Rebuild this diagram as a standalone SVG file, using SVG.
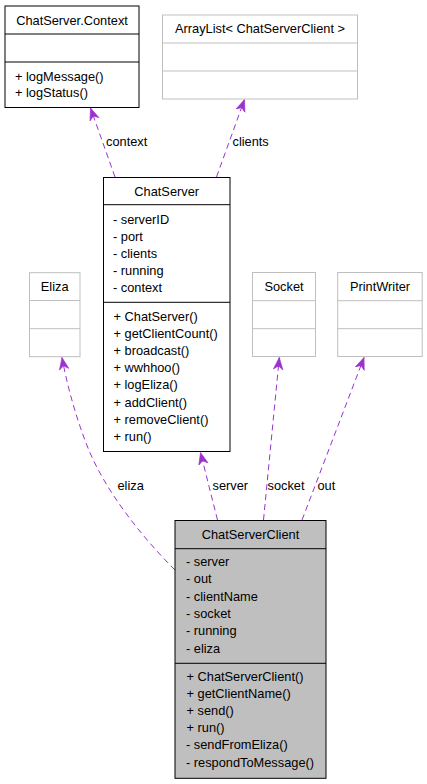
<svg xmlns="http://www.w3.org/2000/svg" width="427" height="784" viewBox="0 0 427 784">
<style>
text{font-family:"Liberation Sans",Arial,sans-serif;font-size:12.8px;fill:#000}
.t{text-anchor:middle}
.bk{fill:#fff;stroke:#000;stroke-width:1}
.gr{fill:#fff;stroke:#bfbfbf;stroke-width:1}
.cur{fill:#bfbfbf;stroke:#000;stroke-width:1}
.dk{stroke:#000;stroke-width:1}
.lg{stroke:#bfbfbf;stroke-width:1}
.e{fill:none;stroke:#9a32cd;stroke-width:1;stroke-dasharray:6,4;marker-end:url(#ah)}
</style>
<defs>
<marker id="ah" viewBox="0 -6 13 12" refX="12" refY="0" markerWidth="13" markerHeight="12" markerUnits="userSpaceOnUse" orient="auto">
<path d="M12,0 L0,-4.8 L3.5,0 L0,4.8 Z" fill="#9a32cd" stroke="#9a32cd" stroke-width="0.6"/>
</marker>
</defs>
<rect width="427" height="784" fill="#fff"/>

<g id="edges">
<path class="e" d="M115,177 L90.5,108"/>
<path class="e" d="M216.5,177 L244.5,99.5"/>
<path class="e" d="M175,570 C140,535 105,490 88,448 C76,418 67,385 62,357.5"/>
<path class="e" d="M217.5,520 L200.5,452.5"/>
<path class="e" d="M263.5,520 L279.3,357.5"/>
<path class="e" d="M302,520 L364,357.5"/>
<text x="106" y="146">context</text>
<text x="232.5" y="146">clients</text>
<text x="117.5" y="490">eliza</text>
<text x="212.5" y="490">server</text>
<text x="267.5" y="490">socket</text>
<text x="317.5" y="490">out</text>
</g>

<g id="ChatServer.Context">
<rect class="bk" x="5" y="6" width="134" height="101.5"/>
<line class="dk" x1="5" y1="34" x2="139" y2="34"/>
<line class="dk" x1="5" y1="62" x2="139" y2="62"/>
<text class="t" x="72" y="24.5">ChatServer.Context</text>
<text x="15" y="80.5">+ logMessage()</text>
<text x="15" y="96.5">+ logStatus()</text>
</g>

<g id="ArrayList">
<rect class="gr" x="162.5" y="15" width="195" height="84"/>
<line class="lg" x1="162.5" y1="43" x2="357.5" y2="43"/>
<line class="lg" x1="162.5" y1="71" x2="357.5" y2="71"/>
<text class="t" x="260" y="33">ArrayList&lt; ChatServerClient &gt;</text>
</g>

<g id="ChatServer">
<rect class="bk" x="103.5" y="177.5" width="126.5" height="274"/>
<line class="dk" x1="103.5" y1="204.7" x2="230" y2="204.7"/>
<line class="dk" x1="103.5" y1="302.3" x2="230" y2="302.3"/>
<text class="t" x="166.7" y="195.5">ChatServer</text>
<text x="113" y="223.5">- serverID</text>
<text x="113" y="240.7">- port</text>
<text x="113" y="257.9">- clients</text>
<text x="113" y="275.1">- running</text>
<text x="113" y="292.3">- context</text>
<text x="113.5" y="320.5">+ ChatServer()</text>
<text x="113.5" y="337.7">+ getClientCount()</text>
<text x="113.5" y="354.9">+ broadcast()</text>
<text x="113.5" y="372.1">+ wwhhoo()</text>
<text x="113.5" y="389.3">+ logEliza()</text>
<text x="113.5" y="406.5">+ addClient()</text>
<text x="113.5" y="423.7">+ removeClient()</text>
<text x="113.5" y="440.9">+ run()</text>
</g>

<g id="Eliza">
<rect class="gr" x="29.5" y="272.7" width="50.5" height="84"/>
<line class="lg" x1="29.5" y1="300.5" x2="80" y2="300.5"/>
<line class="lg" x1="29.5" y1="328.7" x2="80" y2="328.7"/>
<text class="t" x="54.7" y="291">Eliza</text>
</g>

<g id="Socket">
<rect class="gr" x="252.5" y="272.5" width="63" height="84"/>
<line class="lg" x1="252.5" y1="300.7" x2="315.5" y2="300.7"/>
<line class="lg" x1="252.5" y1="328.7" x2="315.5" y2="328.7"/>
<text class="t" x="284" y="291">Socket</text>
</g>

<g id="PrintWriter">
<rect class="gr" x="337.7" y="272.5" width="84.5" height="84"/>
<line class="lg" x1="337.7" y1="300.7" x2="422.2" y2="300.7"/>
<line class="lg" x1="337.7" y1="328.7" x2="422.2" y2="328.7"/>
<text class="t" x="380" y="291">PrintWriter</text>
</g>

<g id="ChatServerClient">
<rect class="cur" x="175" y="520.5" width="151" height="257.8"/>
<line class="dk" x1="175" y1="548.7" x2="326" y2="548.7"/>
<line class="dk" x1="175" y1="663.3" x2="326" y2="663.3"/>
<text class="t" x="250.5" y="539">ChatServerClient</text>
<text x="186" y="566">- server</text>
<text x="186" y="583.3">- out</text>
<text x="186" y="600.6">- clientName</text>
<text x="186" y="617.9">- socket</text>
<text x="186" y="635.2">- running</text>
<text x="186" y="652.5">- eliza</text>
<text x="186.5" y="680.5">+ ChatServerClient()</text>
<text x="186.5" y="697.7">+ getClientName()</text>
<text x="186.5" y="714.9">+ send()</text>
<text x="186.5" y="732.1">+ run()</text>
<text x="186" y="749.3">- sendFromEliza()</text>
<text x="186" y="766.5">- respondToMessage()</text>
</g>
</svg>
